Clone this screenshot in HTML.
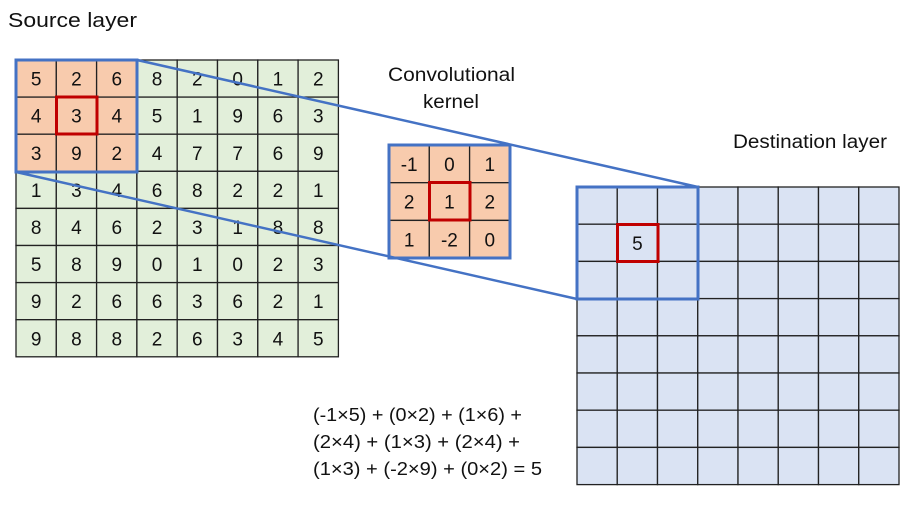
<!DOCTYPE html>
<html><head><meta charset="utf-8"><style>
body{margin:0;background:#fff}
svg text{font-family:"Liberation Sans",sans-serif;fill:#111}
</style></head><body>
<svg width="919" height="500" viewBox="0 0 919 500" xmlns="http://www.w3.org/2000/svg">
<g id="src"></g>
<g id="ker"></g>
<g id="dst"></g>
<text x="8" y="27" font-size="20" textLength="129" lengthAdjust="spacingAndGlyphs">Source layer</text>
<text x="388" y="81" font-size="19" textLength="127" lengthAdjust="spacingAndGlyphs">Convolutional</text>
<text x="423" y="108" font-size="19" textLength="56" lengthAdjust="spacingAndGlyphs">kernel</text>
<text x="733" y="148" font-size="19" textLength="154" lengthAdjust="spacingAndGlyphs">Destination layer</text>
<text x="313" y="421" font-size="18.5" textLength="209" lengthAdjust="spacingAndGlyphs">(-1×5) + (0×2) + (1×6) +</text>
<text x="313" y="448" font-size="18.5" textLength="207" lengthAdjust="spacingAndGlyphs">(2×4) + (1×3) + (2×4) +</text>
<text x="313" y="475" font-size="18.5" textLength="229" lengthAdjust="spacingAndGlyphs">(1×3) + (-2×9) + (0×2) = 5</text>
</svg>
<script>
const NS="http://www.w3.org/2000/svg";
function el(p,t,a,txt){const e=document.createElementNS(NS,t);for(const k in a)e.setAttribute(k,a[k]);if(txt!==undefined)e.textContent=txt;p.appendChild(e);return e;}
const svg=document.querySelector('svg');
const src=[[5,2,6,8,2,0,1,2],[4,3,4,5,1,9,6,3],[3,9,2,4,7,7,6,9],[1,3,4,6,8,2,2,1],[8,4,6,2,3,1,8,8],[5,8,9,0,1,0,2,3],[9,2,6,6,3,6,2,1],[9,8,8,2,6,3,4,5]];
function grid(g,x0,y0,cw,ch,n,m,vals,fill,hl){
 for(let r=0;r<n;r++)for(let c=0;c<m;c++){
  const f=(hl&&r<3&&c<3)?'#f8cbad':fill;
  el(g,'rect',{x:x0+c*cw,y:y0+r*ch,width:cw,height:ch,fill:f,stroke:'#222','stroke-width':1.3});
  if(vals&&vals[r][c]!==''&&vals[r][c]!==undefined)el(g,'text',{x:x0+c*cw+cw/2,y:y0+r*ch+ch/2+7,'font-size':19,'text-anchor':'middle'},vals[r][c]);
 }
}
const gs=document.getElementById('src'),gk=document.getElementById('ker'),gd=document.getElementById('dst');
grid(gs,16,60,40.3,37.1,8,8,src,'#e2efda',true);
grid(gk,389,145,40.3,37.7,3,3,[[-1,0,1],[2,1,2],[1,-2,0]],'#f8cbad',false);
const dv=Array.from({length:8},()=>Array(8).fill(''));dv[1][1]=5;
grid(gd,577,187,40.25,37.2,8,8,dv,'#dae3f3',false);
const B='#4472c4';
el(svg,'rect',{x:16,y:60,width:121,height:112,fill:'none',stroke:B,'stroke-width':3});
el(svg,'rect',{x:389,y:145,width:121,height:113,fill:'none',stroke:B,'stroke-width':3});
el(svg,'rect',{x:577,y:187,width:121,height:112,fill:'none',stroke:B,'stroke-width':3});
el(svg,'line',{x1:137,y1:60,x2:698,y2:187,stroke:B,'stroke-width':2.5});
el(svg,'line',{x1:16,y1:172,x2:577,y2:299,stroke:B,'stroke-width':2.5});
const R='#c00000';
el(svg,'rect',{x:56.5,y:97,width:40.5,height:37,fill:'none',stroke:R,'stroke-width':3});
el(svg,'rect',{x:429.5,y:182.5,width:40.5,height:37.5,fill:'none',stroke:R,'stroke-width':3});
el(svg,'rect',{x:617.5,y:224.5,width:40.5,height:37,fill:'none',stroke:R,'stroke-width':3});
</script>
</body></html>
